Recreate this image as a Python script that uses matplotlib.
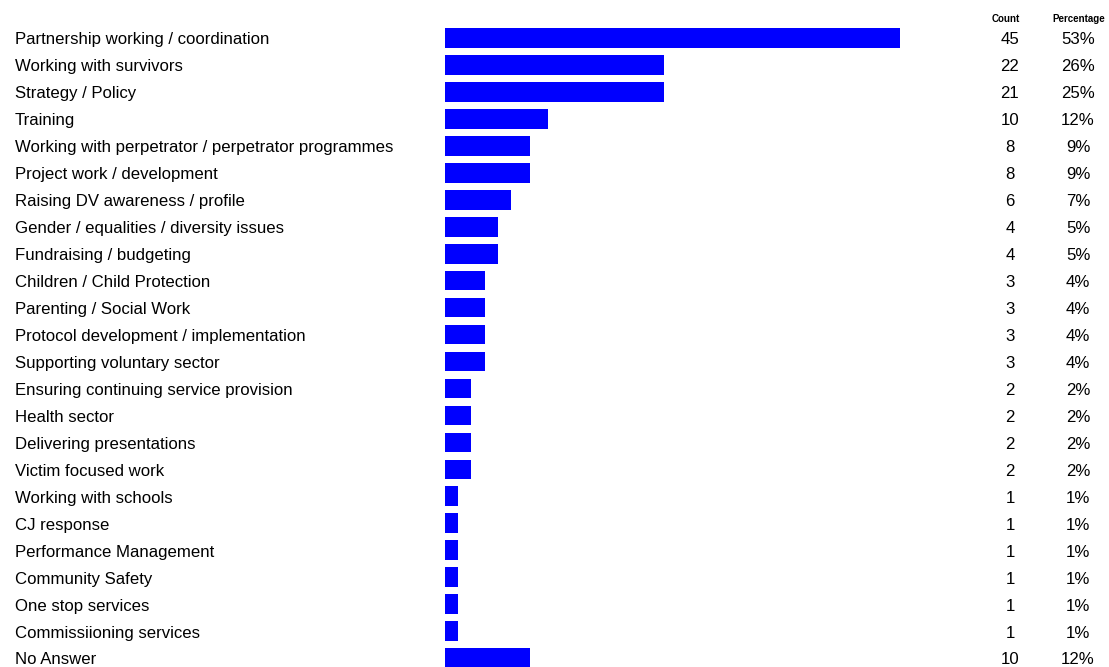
import matplotlib.pyplot as plt

categories = [
    "Partnership working / coordination",
    "Working with survivors",
    "Strategy / Policy",
    "Training",
    "Working with perpetrator / perpetrator programmes",
    "Project work / development",
    "Raising DV awareness / profile",
    "Gender / equalities / diversity issues",
    "Fundraising / budgeting",
    "Children / Child Protection",
    "Parenting / Social Work",
    "Protocol development / implementation",
    "Supporting voluntary sector",
    "Ensuring continuing service provision",
    "Health sector",
    "Delivering presentations",
    "Victim focused work",
    "Working with schools",
    "CJ response",
    "Performance Management",
    "Community Safety",
    "One stop services",
    "Commissiioning services",
    "No Answer",
]
counts = [45, 22, 21, 10, 8, 8, 6, 4, 4, 3, 3, 3, 3, 2, 2, 2, 2, 1, 1, 1, 1, 1, 1, 10]
percentages = [53, 26, 25, 12, 9, 9, 7, 5, 5, 4, 4, 4, 4, 2, 2, 2, 2, 1, 1, 1, 1, 1, 1, 12]
# bar lengths as drawn in the source (not exactly proportional to counts)
bar_lengths = [45, 21.7, 21.7, 10.2, 8.4, 8.4, 6.5, 5.2, 5.2, 4.0, 4.0, 4.0, 4.0,
               2.6, 2.6, 2.6, 2.6, 1.3, 1.3, 1.3, 1.3, 1.3, 1.3, 8.4]

plt.rcParams["font.family"] = ["Liberation Sans", "DejaVu Sans"]

W, H = 1109, 667
fig = plt.figure(figsize=(W / 100, H / 100), dpi=100)
ax = fig.add_axes([0, 0, 1, 1])

px_per_unit = 455 / 45
bar_x0 = 445
row_top = 38
row_step = 26.96

ypos = list(range(len(categories)))
ax.barh(ypos, bar_lengths, height=0.73, color="#0000ff", left=0)

ax.set_xlim(-bar_x0 / px_per_unit, (W - bar_x0) / px_per_unit)
ax.set_ylim((H - row_top) / row_step, -row_top / row_step)
ax.axis("off")

tr = ax.get_yaxis_transform()
dy = 0.07
fs = 12.1
for i, (cat, c, p) in enumerate(zip(categories, counts, percentages)):
    ax.text(15 / W, i + dy, cat, transform=tr, ha="left", va="center", fontsize=fs)
    ax.text(1010 / W, i + dy, str(c), transform=tr, ha="center", va="center", fontsize=fs)
    ax.text(1078 / W, i + dy, f"{p}%", transform=tr, ha="center", va="center", fontsize=fs)

hy = (19 - row_top) / row_step
ax.text(1006 / W, hy, "Count", transform=tr, ha="center", va="center",
        fontsize=7, fontweight="bold")
ax.text(1079 / W, hy, "Percentage", transform=tr, ha="center", va="center",
        fontsize=7, fontweight="bold")

fig.savefig("out.png", dpi=100)
